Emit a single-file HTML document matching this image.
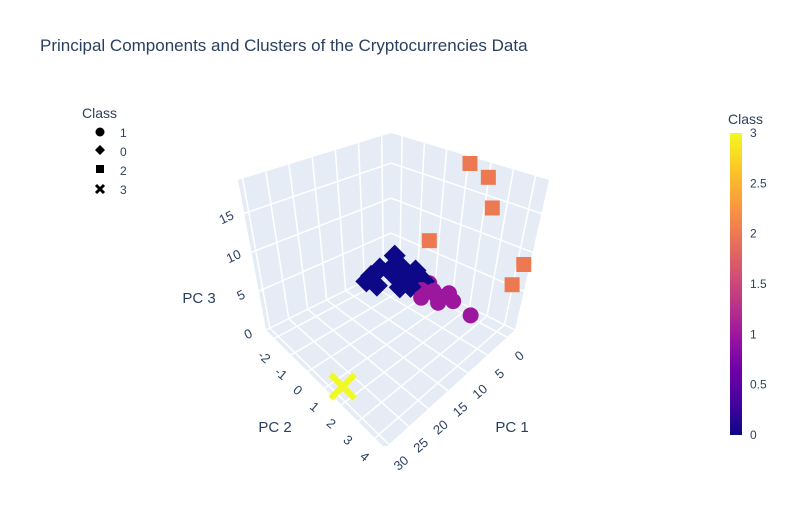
<!DOCTYPE html>
<html><head><meta charset="utf-8"><style>
body{margin:0;background:#fff;font-family:"Liberation Sans",sans-serif}
svg text{font-family:"Liberation Sans",sans-serif;fill:#2a3f5f}
</style></head><body>
<svg id="c" width="800" height="525" xmlns="http://www.w3.org/2000/svg">
<defs><linearGradient id="pl" x1="0" y1="1" x2="0" y2="0">
<stop offset="0" stop-color="#0d0887"/><stop offset="0.111" stop-color="#46039f"/><stop offset="0.222" stop-color="#7201a8"/><stop offset="0.333" stop-color="#9c179e"/><stop offset="0.444" stop-color="#bd3786"/><stop offset="0.556" stop-color="#d8576b"/><stop offset="0.667" stop-color="#ed7953"/><stop offset="0.778" stop-color="#fb9f3a"/><stop offset="0.889" stop-color="#fdca26"/><stop offset="1" stop-color="#f0f921"/></linearGradient>
<clipPath id="clipS"><rect x="0" y="0" width="800" height="446"/></clipPath></defs>
<text x="40" y="51" font-size="17">Principal Components and Clusters of the Cryptocurrencies Data</text>
<g id="scene" clip-path="url(#clipS)"></g>
<g>
<text x="82" y="118" font-size="14">Class</text>
<g><circle cx="100" cy="132" r="4.5" fill="#000"/><text x="120" y="137" font-size="12">1</text></g>
<g><path d="M100 145 l5 5 l-5 5 l-5 -5z" fill="#000"/><text x="120" y="156" font-size="12">0</text></g>
<g><rect x="96" y="165" width="8" height="8" fill="#000"/><text x="120" y="175" font-size="12">2</text></g>
<g><path d="M96 185 l8 8 M104 185 l-8 8" stroke="#000" stroke-width="3"/><text x="120" y="194" font-size="12">3</text></g>
</g>
<g>
<text x="728" y="124" font-size="14">Class</text>
<rect x="730" y="133" width="12" height="302" fill="url(#pl)"/>
<g id="cbt"></g>
</g>
</svg>
<script>
const pc1 = [-0.4,-0.3,-0.2,-0.1,-1.5,-1.2, 7.9,5.0,1.7,3.0,2.5,6.8,1.0,9.8,4.0,5.5,3.5,2.0,8.5,4.5, 1.8,1.8,1.8,1.8,3.8,4.7,0.6,2.8,0.6,2.5,3.0, 28.5];
const pc2 = [1.4,2.3,2.7,-0.1,4.4,4.1, -1.45,-1.6,-1.5,-0.4,0.3,-0.1,-0.5,-1.3,-1.0,-0.8,-0.2,-1.0,-1.0,0.0, 0.2,0.7,1.3,1.8,1.4,0.65,0.2,3.0,1.3,1.0,0.3, 1.5];
const pc3 = [19.0,18.0,14.4,7.2,8.4,5.6, 3,3,4,3,3,3,3,3,4,3.5,3.5,3,2.5,2.5, 2,2,2,2,2,2,2,2,2,2,2, 0.3];
const cls = [2,2,2,2,2,2, 0,0,0,0,0,0,0,0,0,0,0,0,0,0, 1,1,1,1,1,1,1,1,1,1,1, 3];
const pc1Ticks=[0,5,10,15,20,25,30], pc2Ticks=[-2,-1,0,1,2,3,4], pc3Ticks=[0,5,10,15];
const colors=['#0d0887','#9c179e','#ed7953','#f0f921'];
const cbTicks=[0,0.5,1,1.5,2,2.5,3];
const R1=[-2,31],R2=[-2.5,4.6],R3=[0,19.3];
const B=[391,268],R=[515,330],L=[266,330],F=[385,448];
const Bt=[391,133],Rt=[549,180],Lt=[238,180],Ft=[392,232];
function bil(u,v,a,b,c,d,k){return (1-u)*(1-v)*a[k]+u*(1-v)*b[k]+(1-u)*v*c[k]+u*v*d[k];}
function proj(p1,p2,p3){
 const u=(p2-R2[0])/(R2[1]-R2[0]), v=(p1-R1[0])/(R1[1]-R1[0]), w=(p3-R3[0])/(R3[1]-R3[0]);
 const fx=bil(u,v,B,R,L,F,0),fy=bil(u,v,B,R,L,F,1),tx=bil(u,v,Bt,Rt,Lt,Ft,0),ty=bil(u,v,Bt,Rt,Lt,Ft,1);
 return [fx+(tx-fx)*w,fy+(ty-fy)*w];
}
const NS='http://www.w3.org/2000/svg', sc=document.getElementById('scene');
function mk(t,a,p){const e=document.createElementNS(NS,t);for(const k in a)e.setAttribute(k,a[k]);(p||sc).appendChild(e);return e;}
function poly(pts){return pts.map(p=>p.join(',')).join(' ');}
const a1=R1,a2=R2,a3=R3;
let e;
e=mk('polygon',{points:poly([proj(a1[0],a2[0],0),proj(a1[0],a2[1],0),proj(a1[1],a2[1],0),proj(a1[1],a2[0],0)]),fill:'#e5ecf6'});


e=mk('polygon',{points:poly([proj(a1[0],a2[0],0),proj(a1[0],a2[1],0),proj(a1[0],a2[1],a3[1]),proj(a1[0],a2[0],a3[1])]),fill:'#e5ecf6'});


e=mk('polygon',{points:poly([proj(a1[0],a2[0],0),proj(a1[1],a2[0],0),proj(a1[1],a2[0],a3[1]),proj(a1[0],a2[0],a3[1])]),fill:'#e5ecf6'});


function line(p,q,name){const A=proj(...p),Bp=proj(...q);const l=mk('line',{x1:A[0],y1:A[1],x2:Bp[0],y2:Bp[1],stroke:'#fff','stroke-width':1.5});

}
pc1Ticks.forEach(t=>{line([t,a2[0],0],[t,a2[1],0],'pc1-grid');line([t,a2[0],0],[t,a2[0],a3[1]],'pc1-grid');});
pc2Ticks.forEach(t=>{line([a1[0],t,0],[a1[1],t,0],'pc2-grid');line([a1[0],t,0],[a1[0],t,a3[1]],'pc2-grid');});
pc3Ticks.forEach(t=>{line([a1[0],a2[0],t],[a1[1],a2[0],t],'pc3-grid');line([a1[0],a2[0],t],[a1[0],a2[1],t],'pc3-grid');});
function lab(x,y,s,name,rot,size,par){const t=mk('text',{x:x,y:y,'font-size':size||13,'text-anchor':'middle',transform:rot?`rotate(${rot} ${x} ${y})`:''},par);t.textContent=s;

}
const svg=document.getElementById('c');
pc1Ticks.forEach(t=>{const p=proj(t,a2[1],0);lab(p[0]+15,p[1]+22,t,'pc1-tick-label',-40,13,svg);});
pc2Ticks.forEach(t=>{const p=proj(a1[1],t,0);lab(p[0]-13,p[1]+22,t,'pc2-tick-label',40,13,svg);});
pc3Ticks.forEach(t=>{const p=proj(a1[1],a2[0],t);lab(p[0]-16,p[1]+8,t,'pc3-tick-label',-25,13,svg);});
lab(512,432,'PC 1','pc1-axis-title',0,15,svg);lab(275,432,'PC 2','pc2-axis-title',0,15,svg);lab(199,303,'PC 3','pc3-axis-title',0,15,svg);
const idx=pc1.map((_,i)=>i).sort((i,j)=>(pc1[i]+pc2[i]*4)-(pc1[j]+pc2[j]*4));
idx.forEach(i=>{const [x,y]=proj(pc1[i],pc2[i],pc3[i]);const c=colors[cls[i]];let m;
 if(cls[i]===1)m=mk('circle',{cx:x,cy:y,r:8,fill:c});
 else if(cls[i]===0)m=mk('path',{d:`M${x} ${y-11} l11 11 l-11 11 l-11 -11z`,fill:c});
 else if(cls[i]===2)m=mk('rect',{x:x-7.5,y:y-7.5,width:15,height:15,fill:c});
 else m=mk('path',{d:`M${x-12} ${y-12} L${x+12} ${y+12} M${x+12} ${y-12} L${x-12} ${y+12}`,stroke:c,'stroke-width':6});
 
 
});
const cb=document.getElementById('cbt');
cbTicks.forEach(t=>{const y=435-t/3*302;const tx=mk('text',{x:750,y:y+4,'font-size':12},cb);tx.textContent=t;

});
</script>
</body></html>
